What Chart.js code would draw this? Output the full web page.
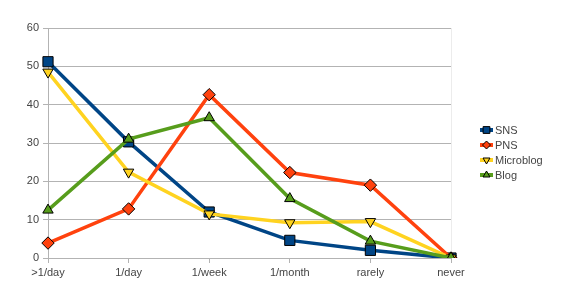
<!DOCTYPE html>
<html><head><meta charset="utf-8">
<script src="https://cdn.jsdelivr.net/npm/chart.js@4"></script>
<style>html,body{margin:0;padding:0;background:#fff;}#wrap{width:570px;height:306px;position:relative;}</style>
</head><body><div id="wrap"><canvas id="c" width="570" height="306"></canvas></div>
<script>
const categories = [">1/day", "1/day", "1/week", "1/month", "rarely", "never"];
const sns = [51.2, 30.3, 12.0, 4.6, 2.0, 0];
const pns = [3.9, 12.8, 42.6, 22.3, 19.0, 0];
const microblog = [48.5, 22.4, 11.5, 9.2, 9.5, 0];
const blog = [12.5, 31.0, 36.6, 15.5, 4.4, 0];
const yTicks = [0, 10, 20, 30, 40, 50, 60];

const FONT = "'Liberation Sans', Arial, sans-serif";
const series = [
  {label: "SNS", data: sns, color: "#004586", style: "rect", rot: 0, r: 7.2, order: 4},
  {label: "PNS", data: pns, color: "#ff420e", style: "rectRot", rot: 0, r: 6.2, order: 3},
  {label: "Microblog", data: microblog, color: "#ffd320", style: "triangle", rot: 180, r: 6, order: 2},
  {label: "Blog", data: blog, color: "#579d1c", style: "triangle", rot: 0, r: 6, order: 1}
];

const legendPlugin = {
  id: 'customLegend',
  beforeDatasetsDraw(chart) {
    const ctx = chart.ctx, a = chart.chartArea;
    ctx.save();
    ctx.strokeStyle = '#ececec'; ctx.lineWidth = 1;
    ctx.beginPath(); ctx.moveTo(Math.round(a.right) + 0.5, a.top); ctx.lineTo(Math.round(a.right) + 0.5, a.bottom); ctx.stroke();
    ctx.restore();
  },
  afterDraw(chart) {
    const ctx = chart.ctx;
    ctx.save();
    series.forEach((s, i) => {
      const y = 130 + i * 15;
      ctx.strokeStyle = s.color; ctx.lineWidth = 4;
      ctx.beginPath(); ctx.moveTo(480, y); ctx.lineTo(493, y); ctx.stroke();
      ctx.fillStyle = s.color; ctx.strokeStyle = '#000'; ctx.lineWidth = 1;
      Chart.helpers.drawPoint(ctx, {pointStyle: s.style, rotation: s.rot, radius: s.style === 'rect' ? 4.8 : 4, borderWidth: 1}, 486.5, y);
      ctx.fillStyle = '#444'; ctx.font = "11px " + FONT; ctx.textBaseline = 'middle'; ctx.textAlign = 'left';
      ctx.fillText(s.label, 495, y + 1);
    });
    ctx.restore();
  }
};

new Chart(document.getElementById('c'), {
  type: 'line',
  data: {
    labels: categories,
    datasets: series.map(s => ({
      label: s.label, data: s.data, borderColor: s.color, backgroundColor: s.color,
      borderWidth: 3.5, pointStyle: s.style, pointRotation: s.rot, pointRadius: s.r,
      pointBorderColor: '#000', pointBorderWidth: 1, pointBackgroundColor: s.color,
      tension: 0, order: s.order, fill: false
    }))
  },
  options: {
    responsive: false, animation: false, devicePixelRatio: 1,
    layout: {padding: {top: 28, right: 119, bottom: 0, left: 0}},
    plugins: {legend: {display: false}, tooltip: {enabled: false}},
    scales: {
      x: {
        offset: false,
        grid: {display: true, drawOnChartArea: false, color: '#b3b3b3', tickLength: 5},
        border: {display: true, color: '#b3b3b3'},
        ticks: {color: '#444', font: {family: FONT, size: 11}, padding: 3, maxRotation: 0, autoSkip: false},
        afterFit(s) { s.height = 48; }
      },
      y: {
        min: 0, max: 60,
        afterBuildTicks(s) { s.ticks = yTicks.map(v => ({value: v})); },
        grid: {color: '#b3b3b3', tickLength: 5},
        border: {display: true, color: '#b3b3b3'},
        ticks: {color: '#444', font: {family: FONT, size: 11}, padding: 4},
        afterFit(s) { s.width = 48; }
      }
    }
  },
  plugins: [legendPlugin]
});
</script></body></html>
